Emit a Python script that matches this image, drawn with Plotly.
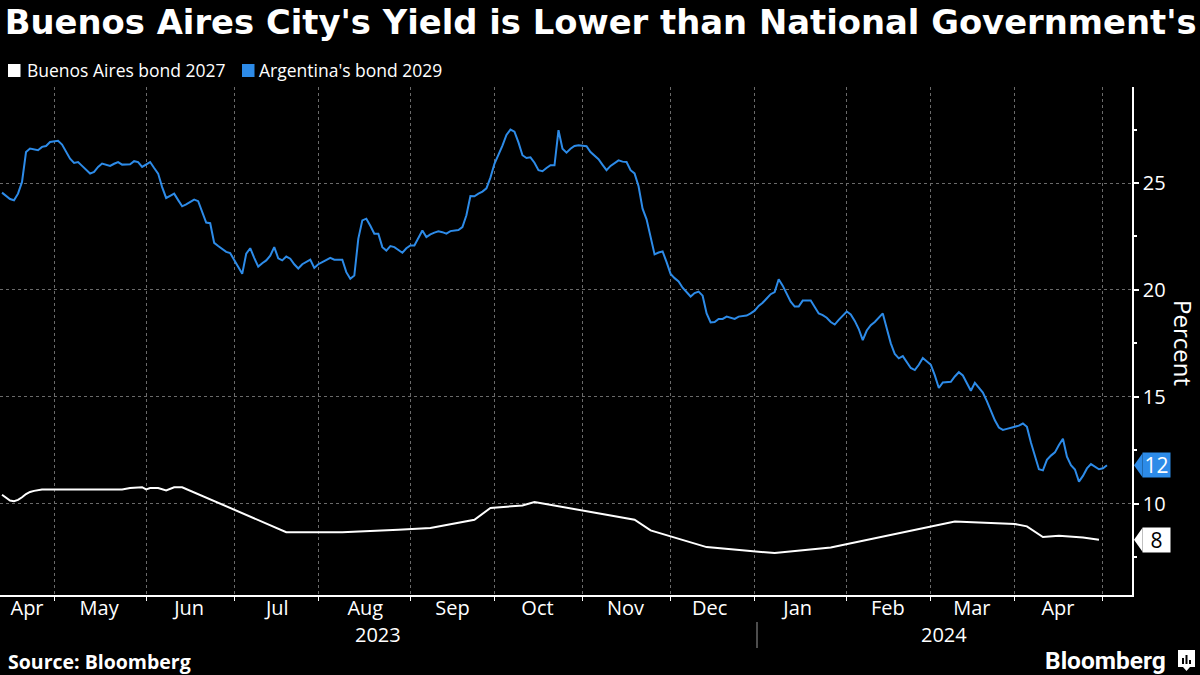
import plotly.graph_objects as go

# ---------------- data ----------------
blue_dates = [
    "2023-04-12", "2023-04-13", "2023-04-14", "2023-04-17", "2023-04-18", "2023-04-19", "2023-04-20", "2023-04-21",
    "2023-04-24", "2023-04-25", "2023-04-26", "2023-04-27", "2023-04-28",
    "2023-05-01", "2023-05-02", "2023-05-03", "2023-05-04", "2023-05-05", "2023-05-08", "2023-05-09", "2023-05-10",
    "2023-05-11", "2023-05-12", "2023-05-15", "2023-05-16", "2023-05-17", "2023-05-18", "2023-05-19", "2023-05-22",
    "2023-05-23", "2023-05-24", "2023-05-25", "2023-05-26", "2023-05-29", "2023-05-30", "2023-05-31",
    "2023-06-01", "2023-06-02", "2023-06-05", "2023-06-06", "2023-06-07", "2023-06-08", "2023-06-09", "2023-06-12",
    "2023-06-13", "2023-06-14", "2023-06-15", "2023-06-16", "2023-06-19", "2023-06-20", "2023-06-21", "2023-06-22",
    "2023-06-23", "2023-06-26", "2023-06-27", "2023-06-28", "2023-06-29", "2023-06-30",
    "2023-07-03", "2023-07-04", "2023-07-05", "2023-07-06", "2023-07-07", "2023-07-10", "2023-07-11", "2023-07-12",
    "2023-07-13", "2023-07-14", "2023-07-17", "2023-07-18", "2023-07-19", "2023-07-20", "2023-07-21", "2023-07-24",
    "2023-07-25", "2023-07-26", "2023-07-27", "2023-07-28", "2023-07-31",
    "2023-08-01", "2023-08-02", "2023-08-03", "2023-08-04", "2023-08-07", "2023-08-08", "2023-08-09", "2023-08-10",
    "2023-08-11", "2023-08-14", "2023-08-15", "2023-08-16", "2023-08-17", "2023-08-18", "2023-08-21", "2023-08-22",
    "2023-08-23", "2023-08-24", "2023-08-25", "2023-08-28", "2023-08-29", "2023-08-30", "2023-08-31",
    "2023-09-01", "2023-09-04", "2023-09-05", "2023-09-06", "2023-09-07", "2023-09-08", "2023-09-11", "2023-09-12",
    "2023-09-13", "2023-09-14", "2023-09-15", "2023-09-18", "2023-09-19", "2023-09-20", "2023-09-21", "2023-09-22",
    "2023-09-25", "2023-09-26", "2023-09-27", "2023-09-28", "2023-09-29",
    "2023-10-02", "2023-10-03", "2023-10-04", "2023-10-05", "2023-10-06", "2023-10-09", "2023-10-10", "2023-10-11",
    "2023-10-12", "2023-10-13", "2023-10-16", "2023-10-17", "2023-10-18", "2023-10-19", "2023-10-20", "2023-10-23",
    "2023-10-24", "2023-10-25", "2023-10-26", "2023-10-27", "2023-10-30", "2023-10-31",
    "2023-11-01", "2023-11-02", "2023-11-03", "2023-11-06", "2023-11-07", "2023-11-08", "2023-11-09", "2023-11-10",
    "2023-11-13", "2023-11-14", "2023-11-15", "2023-11-16", "2023-11-17", "2023-11-20", "2023-11-21", "2023-11-22",
    "2023-11-23", "2023-11-24", "2023-11-27", "2023-11-28", "2023-11-29", "2023-11-30",
    "2023-12-01", "2023-12-04", "2023-12-05", "2023-12-06", "2023-12-07", "2023-12-08", "2023-12-11", "2023-12-12",
    "2023-12-13", "2023-12-14", "2023-12-15", "2023-12-18", "2023-12-19", "2023-12-20", "2023-12-21", "2023-12-22",
    "2023-12-25", "2023-12-26", "2023-12-27", "2023-12-28", "2023-12-29",
    "2024-01-01", "2024-01-02", "2024-01-03", "2024-01-04", "2024-01-05", "2024-01-08", "2024-01-09", "2024-01-10",
    "2024-01-11", "2024-01-12", "2024-01-15", "2024-01-16", "2024-01-17", "2024-01-18", "2024-01-19", "2024-01-22",
    "2024-01-23", "2024-01-24", "2024-01-25", "2024-01-26", "2024-01-29", "2024-01-30", "2024-01-31",
    "2024-02-01", "2024-02-02", "2024-02-05", "2024-02-06", "2024-02-07", "2024-02-08", "2024-02-09", "2024-02-12",
    "2024-02-13", "2024-02-14", "2024-02-15", "2024-02-16", "2024-02-19", "2024-02-20", "2024-02-21", "2024-02-22",
    "2024-02-23", "2024-02-26", "2024-02-27", "2024-02-28", "2024-02-29",
    "2024-03-01", "2024-03-04", "2024-03-05", "2024-03-06", "2024-03-07", "2024-03-08", "2024-03-11", "2024-03-12",
    "2024-03-13", "2024-03-14", "2024-03-15", "2024-03-18", "2024-03-19", "2024-03-20", "2024-03-21", "2024-03-22",
    "2024-03-25", "2024-03-26", "2024-03-27", "2024-03-28", "2024-03-29",
    "2024-04-01", "2024-04-02", "2024-04-03", "2024-04-04", "2024-04-05", "2024-04-08", "2024-04-09", "2024-04-10",
    "2024-04-11", "2024-04-12", "2024-04-15", "2024-04-16", "2024-04-17", "2024-04-18", "2024-04-19", "2024-04-22",
    "2024-04-23", "2024-04-24", "2024-04-25", "2024-04-26", "2024-04-29", "2024-04-30",
    "2024-05-01", "2024-05-02",
]
blue_yield = [
    24.55, 24.39, 24.25, 24.19, 24.5, 25.05, 26.45, 26.61,
    26.58, 26.53, 26.69, 26.73, 26.92,
    26.95, 26.97, 26.8, 26.5, 26.14, 25.94, 25.98, 25.8,
    25.6, 25.44, 25.52, 25.75, 25.91, 25.85, 25.8, 25.9,
    25.98, 25.86, 25.87, 25.88, 26.02, 25.98, 25.75,
    25.85, 25.98, 25.7, 25.44, 24.81, 24.3, 24.4, 24.5,
    24.2, 23.91, 24.0, 24.1, 24.22, 24.15, 23.6, 23.15,
    23.12, 22.2, 22.05, 21.9, 21.78, 21.72,
    21.4, 21.1, 20.75, 21.69, 21.95, 21.5, 21.09, 21.25,
    21.38, 21.6, 22.0, 21.48, 21.38, 21.56, 21.46, 21.2,
    21.0, 21.2, 21.3, 21.42, 21.03,
    21.2, 21.3, 21.4, 21.5, 21.41, 21.41, 21.41, 20.83,
    20.52, 20.67, 22.4, 23.25, 23.33, 23.0, 22.63, 22.63,
    22.0, 21.84, 22.05, 22.0, 21.85, 21.74, 21.95,
    22.08, 22.08, 22.4, 22.78, 22.47, 22.6, 22.68, 22.74,
    22.7, 22.63, 22.75, 22.78, 22.8, 22.94, 23.49, 24.39,
    24.38, 24.5, 24.6, 24.75, 25.25,
    25.9, 26.3, 26.75, 27.25, 27.5, 27.4, 26.9, 26.3,
    26.17, 26.2, 25.95, 25.6, 25.55, 25.7, 25.83, 25.83,
    27.47, 26.6, 26.42, 26.6, 26.73, 26.77,
    26.76, 26.72, 26.45, 26.27, 26.11, 25.85, 25.6, 25.8,
    25.95, 26.06, 26.0, 25.98, 25.6, 25.45, 24.85, 23.8,
    23.3, 22.5, 21.66, 21.75, 21.8, 21.3,
    20.75, 20.55, 20.4, 20.1, 19.9, 19.69, 19.85, 19.92,
    19.73, 18.9, 18.48, 18.5, 18.64, 18.64, 18.75, 18.7,
    18.64, 18.75, 18.78, 18.8, 18.9,
    19.03, 19.25, 19.4, 19.6, 19.8, 19.9, 20.5, 20.2,
    19.81, 19.45, 19.22, 19.22, 19.5, 19.5, 19.5, 19.2,
    18.9, 18.82, 18.7, 18.5, 18.38, 18.6, 18.8,
    18.99, 18.85, 18.55, 18.17, 17.65, 18.1, 18.35, 18.5,
    18.7, 18.9, 18.2, 17.5, 17.0, 16.8, 16.9, 16.6,
    16.35, 16.25, 16.5, 16.81, 16.65,
    16.5, 16.0, 15.41, 15.67, 15.67, 15.7, 15.95, 16.15,
    16.0, 15.6, 15.28, 15.65, 15.45, 15.2, 14.8, 14.3,
    13.9, 13.56, 13.45, 13.5, 13.55,
    13.59, 13.65, 13.75, 13.6, 12.86, 12.2, 11.61, 11.56,
    12.05, 12.25, 12.4, 12.75, 13.04, 12.2, 11.8, 11.6,
    11.03, 11.3, 11.65, 11.85, 11.72, 11.61,
    11.66, 11.8,
]

white_dates = [
    "2023-04-12", "2023-04-13", "2023-04-14", "2023-04-17", "2023-04-18", "2023-04-19", "2023-04-20",
    "2023-04-21", "2023-04-24", "2023-04-26", "2023-05-24", "2023-05-26", "2023-05-30", "2023-05-31",
    "2023-06-01", "2023-06-02", "2023-06-06", "2023-06-08", "2023-06-12", "2023-06-14", "2023-07-20",
    "2023-08-09", "2023-08-29", "2023-09-08", "2023-09-25", "2023-09-29", "2023-10-11", "2023-10-16",
    "2023-11-20", "2023-11-24", "2023-12-14", "2024-01-08", "2024-01-26", "2024-03-11", "2024-04-01",
    "2024-04-04", "2024-04-10", "2024-04-16", "2024-04-24", "2024-04-30",
]
white_yield = [
    10.42, 10.3, 10.15, 10.12, 10.18, 10.3, 10.45,
    10.55, 10.6, 10.66, 10.66, 10.73, 10.75, 10.77,
    10.67, 10.73, 10.73, 10.62, 10.77, 10.77, 8.67,
    8.67, 8.78, 8.86, 9.25, 9.8, 9.92, 10.08,
    9.25, 8.75, 7.97, 7.69, 7.95, 9.17, 9.05,
    8.94, 8.44, 8.5, 8.42, 8.31,
]

series_names = ["Buenos Aires bond 2027", "Argentina's bond 2029"]

# month boundaries (first trading day of each month) and month-label positions
month_starts = [
    "2023-05-01", "2023-06-01", "2023-07-03", "2023-08-01", "2023-09-01", "2023-10-02", "2023-11-01",
    "2023-12-01", "2024-01-01", "2024-02-01", "2024-03-01", "2024-04-01", "2024-05-01",
]
month_label_pos = [
    "2023-04-20 06:00", "2023-05-16 06:00", "2023-06-15 18:00", "2023-07-17 18:00", "2023-08-16 18:00",
    "2023-09-15 12:00", "2023-10-16 18:00", "2023-11-15 18:00", "2023-12-14 18:00", "2024-01-15 18:00",
    "2024-02-15 06:00", "2024-03-15 06:00", "2024-04-15 18:00",
]
month_labels = ["Apr", "May", "Jun", "Jul", "Aug", "Sep", "Oct", "Nov", "Dec", "Jan", "Feb", "Mar", "Apr"]
year_labels = ["2023", "2024"]

y_major_ticks = [10, 15, 20, 25]
y_minor_ticks = [7.5, 12.5, 17.5, 22.5, 27.5]

# ---------------- style ----------------
BLUE = "#2d8be8"
WHITE = "#ffffff"
GRID = "#6a6a6a"
FONT = "Open Sans"
W, H = 1200, 675
ML, MR, MT, MB = 0, 68, 87, 80
PW, PH = W - ML - MR, H - MT - MB
Y_RANGE = [5.73, 29.49]
X_RANGE = ["2023-04-11 12:00", "2024-05-10 06:00"]


def px(x):
    return (x - ML) / PW


def py(y):
    return (H - MB - y) / PH


def vy(v):
    return (v - Y_RANGE[0]) / (Y_RANGE[1] - Y_RANGE[0])


fig = go.Figure()
fig.add_trace(go.Scatter(x=white_dates, y=white_yield, mode="lines", name=series_names[0],
                         line=dict(color=WHITE, width=2)))
fig.add_trace(go.Scatter(x=blue_dates, y=blue_yield, mode="lines", name=series_names[1],
                         line=dict(color=BLUE, width=2)))

fig.update_layout(
    width=W, height=H,
    paper_bgcolor="black", plot_bgcolor="black",
    margin=dict(l=ML, r=MR, t=MT, b=MB),
    showlegend=False,
    font=dict(family=FONT, color=WHITE, size=20),
    title=dict(text="<b>Buenos Aires City's Yield is Lower than National Government's</b>",
               xref="container", yref="container", x=0.004, xanchor="left",
               y=1 - 22 / H, yanchor="middle",
               font=dict(family="DejaVu Sans", size=33.8, color=WHITE)),
)

fig.update_xaxes(
    type="date", range=X_RANGE,
    rangebreaks=[dict(bounds=["sat", "mon"])],
    tickmode="array", tickvals=month_label_pos, ticktext=month_labels,
    ticks="", showgrid=False, ticklabelstandoff=-6,
    minor=dict(tickmode="array", tickvals=month_starts, ticks="outside", ticklen=4,
               tickcolor=WHITE, tickwidth=1, showgrid=True, gridcolor=GRID,
               griddash="dot", gridwidth=1),
    showline=True, linecolor=WHITE, linewidth=1.5,
    tickfont=dict(size=20, color=WHITE), zeroline=False,
)
fig.update_yaxes(
    side="right", range=Y_RANGE, tickmode="array", tickvals=y_major_ticks,
    showgrid=True, gridcolor=GRID, griddash="dot", gridwidth=1,
    showline=True, linecolor=WHITE, linewidth=1.5,
    ticks="outside", ticklen=5, tickcolor=WHITE, tickwidth=1.5,
    tickfont=dict(size=20, color=WHITE), zeroline=False,
    minor=dict(tickmode="array", tickvals=y_minor_ticks, ticks="outside", ticklen=3,
               tickcolor=WHITE, showgrid=False),
)

ann = []
shapes = []

# legend
legend_items = [(8, 25, WHITE, series_names[0]), (242, 257, BLUE, series_names[1])]
for sx, tx, col, name in legend_items:
    shapes.append(dict(type="rect", xref="paper", yref="paper",
                       x0=px(sx), x1=px(sx + 12.5), y0=py(77), y1=py(64),
                       fillcolor=col, line=dict(width=0)))
    ann.append(dict(text=name, xref="paper", yref="paper", x=px(tx), y=py(70),
                    xanchor="left", yanchor="middle", showarrow=False,
                    font=dict(size=17.5, color=WHITE, family=FONT)))

# y axis title
ann.append(dict(text="Percent", xref="paper", yref="paper", x=px(1184), y=py(343),
                textangle=90, showarrow=False, xanchor="center", yanchor="middle",
                font=dict(size=24, color=WHITE, family=FONT)))

# year labels and separator
ann.append(dict(text=year_labels[0], xref="paper", yref="paper", x=px(378), y=py(634),
                xanchor="center", yanchor="middle",
                showarrow=False, font=dict(size=20, color=WHITE, family=FONT)))
ann.append(dict(text=year_labels[1], xref="paper", yref="paper", x=px(944), y=py(634),
                xanchor="center", yanchor="middle",
                showarrow=False, font=dict(size=20, color=WHITE, family=FONT)))
shapes.append(dict(type="line", xref="paper", yref="paper", x0=px(757), x1=px(757),
                   y0=py(622), y1=py(648), line=dict(color="#9a9a9a", width=1)))

# last value tags
for vals, bg, fg in [(blue_yield, BLUE, WHITE), (white_yield, WHITE, "black")]:
    v = vals[-1]
    ann.append(dict(text=f"{v:.0f}", xref="paper", yref="y", x=px(1142), y=v,
                    xanchor="left", yanchor="middle", showarrow=False,
                    width=27, height=24, bgcolor=bg, borderpad=0,
                    font=dict(size=21, color=fg, family=FONT)))
    yv = vy(v)
    dy = 12 / PH
    shapes.append(dict(type="path", xref="paper", yref="paper",
                       path=f"M {px(1134)},{yv} L {px(1142.5)},{yv + dy} L {px(1142.5)},{yv - dy} Z",
                       fillcolor=bg, line=dict(width=0)))

# footer
ann.append(dict(text="<b>Source: Bloomberg</b>", xref="paper", yref="paper", x=px(6), y=py(661),
                xanchor="left", yanchor="middle", showarrow=False,
                font=dict(size=19.5, color=WHITE, family=FONT)))
ann.append(dict(text="<b>Bloomberg</b>", xref="paper", yref="paper", x=px(1168), y=py(660),
                xanchor="right", yanchor="middle", showarrow=False,
                font=dict(size=24.5, color=WHITE, family="Roboto")))
# small logo mark
shapes.append(dict(type="rect", xref="paper", yref="paper", x0=px(1178), x1=px(1195),
                   y0=py(667), y1=py(650), fillcolor=WHITE, line=dict(width=0)))
shapes.append(dict(type="path", xref="paper", yref="paper",
                   path=f"M {px(1183)},{py(667)} L {px(1186.5)},{py(671)} L {px(1190)},{py(667)} Z",
                   fillcolor=WHITE, line=dict(width=0)))
for bx, top in [(1182, 658), (1185.5, 655), (1189, 660)]:
    shapes.append(dict(type="rect", xref="paper", yref="paper", x0=px(bx), x1=px(bx + 2),
                       y0=py(664), y1=py(top), fillcolor="black", line=dict(width=0)))

fig.update_layout(annotations=ann, shapes=shapes)
fig.write_html("out.html", config={"displayModeBar": False},
               post_script="document.body.style.margin='0px';")
